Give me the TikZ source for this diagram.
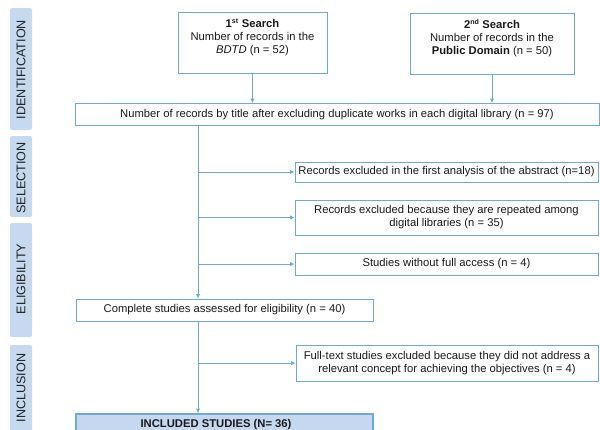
\documentclass[tikz,border=0pt]{standalone}
\usepackage{fontspec}
\setmainfont{Liberation Sans}
\usetikzlibrary{arrows.meta}
\definecolor{lineblue}{HTML}{6FA8DC}
\definecolor{tabfill}{HTML}{C6D9EF}
\definecolor{incfill}{HTML}{C5D8EF}
\definecolor{txt}{HTML}{1A1A1A}
\definecolor{tabtxt}{HTML}{222222}
\begin{document}
\begin{tikzpicture}[x=1pt,y=-1pt,
  box/.style={draw=lineblue, line width=0.9pt, fill=white, inner sep=0pt, align=center,
    font=\fontsize{11.25}{13}\selectfont, text=txt},
  boxtext/.style={inner sep=0pt, align=center, font=\fontsize{11.25}{13}\selectfont, text=txt},
  tab/.style={fill=tabfill, rounded corners=2pt, minimum width=22pt, inner sep=0pt},
  tablabel/.style={rotate=90, font=\fontsize{12.6}{14}\selectfont, text=tabtxt, inner sep=0pt},
  conn/.style={draw=lineblue, line width=0.9pt, -{Latex[length=4.5pt,width=4.5pt]}}]
\useasboundingbox (0,0) rectangle (600,429);

% phase tabs
\node[tab, minimum height=122pt] (tid) at (21,69) {};
\node[tablabel] (tidl) at (21,69.5) {IDENTIFICATION};
\node[tab, minimum height=81pt] (tsel) at (21,176.5) {};
\node[tablabel] (tsell) at (21,178) {SELECTION};
\node[tab, minimum height=114pt] (tel) at (21,280) {};
\node[tablabel] (tell) at (21,279) {ELIGIBILITY};
\node[tab, minimum height=90pt] (tin) at (21,390) {};
\node[tablabel] (tinl) at (21,388) {INCLUSION};

% search boxes
\node[box, minimum width=149pt, minimum height=61pt] (s1) at (252.5,42.5) {};
\node[boxtext, anchor=north] (s1t) at (252.5,18.5) {\textbf{1\textsuperscript{\scriptsize st} Search}\\Number of records in the\\\textit{BDTD} (n = 52)};
\node[box, minimum width=164pt, minimum height=61pt] (s2) at (492,43.5) {};
\node[boxtext, anchor=north] (s2t) at (492,19.5) {\textbf{2\textsuperscript{\scriptsize nd} Search}\\Number of records in the\\\textbf{Public Domain} (n = 50)};

% main flow
\node[box, minimum width=524pt, minimum height=22pt] (r97) at (337,114.5) {Number of records by title after excluding duplicate works in each digital library (n = 97)};
\node[box, minimum width=303pt, minimum height=20pt] (e1) at (446.5,172) {Records excluded in the first analysis of the abstract (n=18)};
\node[box, minimum width=303pt, minimum height=35pt] (e2) at (446.5,217.5) {Records excluded because they are repeated among\\digital libraries (n = 35)};
\node[box, minimum width=303pt, minimum height=22pt] (e3) at (446.5,264) {Studies without full access (n = 4)};
\node[box, minimum width=297pt, minimum height=22pt] (cs) at (224.5,310) {Complete studies assessed for eligibility (n = 40)};
\node[box, minimum width=302pt, minimum height=36pt] (ft) at (447,363) {Full-text studies excluded because they did not address a\\relevant concept for achieving the objectives (n = 4)};
\node[box, draw=lineblue, line width=1.8pt, fill=incfill, minimum width=297pt, minimum height=22pt] (inc) at (224.5,425) {};
\node[boxtext, font=\fontsize{11.25}{13}\selectfont\bfseries] (inct) at (216,424.5) {INCLUDED STUDIES (N= 36)};

% junctions on the trunk
\coordinate (j1) at (198,172);
\coordinate (j2) at (198,217.5);
\coordinate (j3) at (198,264);
\coordinate (j4) at (198,363);

% connectors
\draw[conn] (s1.south) -- (s1.south |- r97.north);
\draw[conn] (s2.south) -- (s2.south |- r97.north);
\draw[conn] (r97.south -| j1) -- (cs.north -| j1);
\draw[conn] (j1) -- (e1.west);
\draw[conn] (j2) -- (e2.west);
\draw[conn] (j3) -- (e3.west);
\draw[conn] (cs.south -| j4) -- (inc.north -| j4);
\draw[conn] (j4) -- (ft.west);
\end{tikzpicture}
\end{document}
